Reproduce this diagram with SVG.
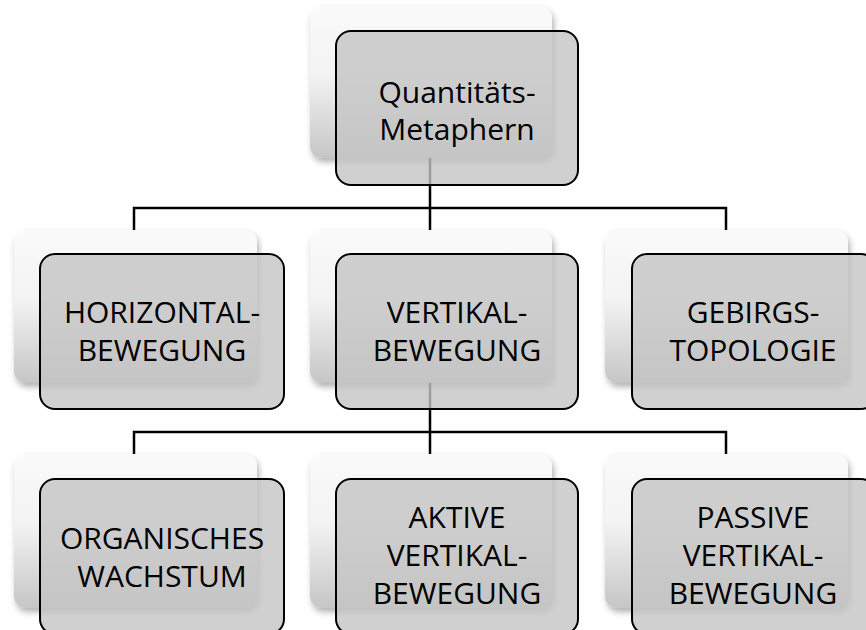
<svg xmlns="http://www.w3.org/2000/svg" width="866" height="630" viewBox="0 0 866 630">
  <defs>
    <linearGradient id="backGrad" x1="0" y1="0" x2="0" y2="1">
      <stop offset="0" stop-color="#fafafa"/>
      <stop offset="0.45" stop-color="#f3f3f3"/>
      <stop offset="1" stop-color="#c6c6c6"/>
    </linearGradient>
    <filter id="shadow" x="-10%" y="-10%" width="125%" height="130%">
      <feDropShadow dx="2" dy="4" stdDeviation="3" flood-color="#000" flood-opacity="0.3"/>
    </filter>
  </defs>
  <style>
    .back { fill: url(#backGrad); filter: url(#shadow); }
    .front { fill: #c4c4c4; fill-opacity: 0.8; stroke: #000; stroke-width: 2; }
    .conn { fill: none; stroke: #000; stroke-width: 2.5; }
    .label { font-family: "Open Sans", "Noto Sans", sans-serif; font-size: 30px; fill: #000; text-anchor: middle; }
  </style>
  <rect width="866" height="630" fill="#fff"/>

  <g id="connectors">
    <path class="conn" d="M430 158 V208 M134 232 V208 H726 V232 M430 208 V232"/>
    <path class="conn" d="M430 383 V432 M134 455 V432 H726 V455 M430 432 V455"/>
  </g>

  <g id="node-root">
    <rect class="back" x="310" y="6" width="242" height="152" rx="12"/>
    <rect class="front" x="336" y="31" width="242" height="154" rx="15"/>
    <text class="label" x="457" y="103">Quantitäts-</text>
    <text class="label" x="457" y="140">Metaphern</text>
  </g>

  <g id="node-horizontal">
    <rect class="back" x="14" y="230" width="243" height="153" rx="12"/>
    <rect class="front" x="40" y="254" width="244" height="155" rx="15"/>
    <text class="label" x="162" y="323">HORIZONTAL-</text>
    <text class="label" x="162" y="361">BEWEGUNG</text>
  </g>

  <g id="node-vertikal">
    <rect class="back" x="310" y="230" width="242" height="153" rx="12"/>
    <rect class="front" x="336" y="254" width="242" height="155" rx="15"/>
    <text class="label" x="457" y="323">VERTIKAL-</text>
    <text class="label" x="457" y="361">BEWEGUNG</text>
  </g>

  <g id="node-gebirgs">
    <rect class="back" x="605" y="230" width="243" height="153" rx="12"/>
    <rect class="front" x="632" y="254" width="244" height="155" rx="15"/>
    <text class="label" x="753" y="323">GEBIRGS-</text>
    <text class="label" x="753" y="361">TOPOLOGIE</text>
  </g>

  <g id="node-organisch">
    <rect class="back" x="14" y="454" width="243" height="154" rx="12"/>
    <rect class="front" x="40" y="479" width="244" height="155" rx="15"/>
    <text class="label" x="162" y="549">ORGANISCHES</text>
    <text class="label" x="162" y="587">WACHSTUM</text>
  </g>

  <g id="node-aktiv">
    <rect class="back" x="310" y="454" width="242" height="154" rx="12"/>
    <rect class="front" x="336" y="479" width="242" height="155" rx="15"/>
    <text class="label" x="457" y="528">AKTIVE</text>
    <text class="label" x="457" y="566">VERTIKAL-</text>
    <text class="label" x="457" y="604">BEWEGUNG</text>
  </g>

  <g id="node-passiv">
    <rect class="back" x="605" y="454" width="243" height="154" rx="12"/>
    <rect class="front" x="632" y="479" width="244" height="155" rx="15"/>
    <text class="label" x="753" y="528">PASSIVE</text>
    <text class="label" x="753" y="566">VERTIKAL-</text>
    <text class="label" x="753" y="604">BEWEGUNG</text>
  </g>
</svg>
